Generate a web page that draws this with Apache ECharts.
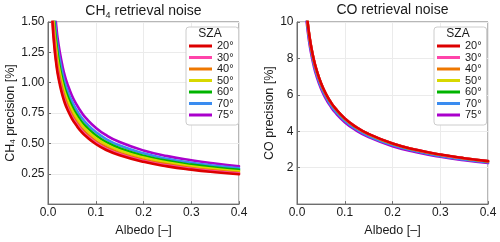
<!DOCTYPE html>
<html>
<head>
<meta charset="utf-8">
<script src="https://cdn.jsdelivr.net/npm/echarts@6/dist/echarts.min.js"></script>
<style>html,body{margin:0;padding:0;background:#fff}#c{width:500px;height:242px}</style>
</head>
<body>
<div id="c"></div>
<script>
const albedo = [0.007,0.01,0.0125,0.015,0.0175,0.02,0.025,0.03,0.035,0.04,0.05,0.06,0.07,0.08,0.1,0.12,0.15,0.2,0.25,0.3,0.35,0.4];
const szaNames = ['20°','30°','40°','50°','60°','70°','75°'];
const szaColors = ['#dd0000','#ff44aa','#ee7700','#d8d800','#00b400','#3a8cf0','#aa00cc'];
const xTicks = [0, 0.1, 0.2, 0.3, 0.4];
const ch4Ticks = [0.25, 0.5, 0.75, 1.0, 1.25, 1.5];
const coTicks = [2, 4, 6, 8, 10];

const ch4_20 = [1.70,1.46,1.33,1.23,1.15,1.08,0.98,0.90,0.835,0.785,0.705,0.645,0.595,0.556,0.495,0.450,0.402,0.348,0.311,0.284,0.263,0.246];
const ch4_30 = [1.73,1.49,1.36,1.25,1.17,1.10,1.00,0.918,0.852,0.80,0.719,0.658,0.607,0.567,0.505,0.459,0.410,0.355,0.317,0.290,0.268,0.251];
const ch4_40 = [1.79,1.53,1.40,1.29,1.21,1.13,1.03,0.945,0.877,0.824,0.740,0.677,0.625,0.584,0.520,0.473,0.422,0.365,0.327,0.298,0.276,0.258];
const ch4_50 = [1.87,1.61,1.46,1.35,1.27,1.19,1.08,0.99,0.919,0.864,0.776,0.710,0.655,0.612,0.545,0.495,0.442,0.383,0.342,0.312,0.289,0.271];
const ch4_60 = [1.95,1.67,1.52,1.41,1.32,1.24,1.12,1.03,0.956,0.899,0.807,0.739,0.681,0.637,0.567,0.515,0.460,0.398,0.356,0.325,0.301,0.282];
const ch4_70 = [2.04,1.75,1.60,1.48,1.38,1.30,1.18,1.08,1.00,0.942,0.846,0.774,0.714,0.667,0.594,0.540,0.482,0.418,0.373,0.341,0.316,0.295];
const ch4_75 = [2.16,1.85,1.69,1.56,1.46,1.37,1.245,1.143,1.06,0.997,0.895,0.819,0.756,0.706,0.629,0.572,0.511,0.442,0.395,0.361,0.334,0.312];

const co_20 = [17.8,14.9,13.33,12.17,11.26,10.54,9.42,8.60,7.96,7.45,6.66,6.08,5.63,5.27,4.71,4.30,3.85,3.33,2.98,2.72,2.52,2.36];
const co_30 = [17.78,14.88,13.32,12.16,11.25,10.53,9.41,8.59,7.95,7.44,6.65,6.07,5.62,5.26,4.705,4.296,3.846,3.327,2.977,2.717,2.517,2.358];
const co_40 = [17.76,14.87,13.30,12.15,11.24,10.52,9.40,8.58,7.94,7.435,6.647,6.068,5.619,5.259,4.70,4.291,3.842,3.323,2.974,2.715,2.515,2.355];
const co_50 = [17.73,14.84,13.28,12.12,11.21,10.50,9.38,8.57,7.93,7.42,6.63,6.06,5.61,5.25,4.69,4.283,3.835,3.317,2.968,2.709,2.51,2.351];
const co_60 = [17.69,14.81,13.25,12.10,11.19,10.48,9.36,8.55,7.91,7.41,6.62,6.04,5.60,5.24,4.68,4.274,3.827,3.31,2.962,2.704,2.505,2.346];
const co_70 = [17.3,14.48,12.96,11.83,10.94,10.24,9.16,8.36,7.74,7.24,6.47,5.91,5.47,5.12,4.58,4.18,3.74,3.24,2.90,2.64,2.45,2.294];
const co_75 = [17.0,14.23,12.73,11.62,10.75,10.07,9.0,8.21,7.60,7.11,6.36,5.81,5.38,5.03,4.50,4.11,3.68,3.18,2.85,2.60,2.41,2.254];

const ch4Series = [ch4_20, ch4_30, ch4_40, ch4_50, ch4_60, ch4_70, ch4_75];
const coSeries = [co_20, co_30, co_40, co_50, co_60, co_70, co_75];

const FONT = 'Liberation Sans, Arial, sans-serif';
const TXT = '#1a1a1a';
const FRAME = '#6e6e6e';

// drawn from 75° to 20°, so 20° ends up on top
function makeSeries(arr, idx) {
  const out = [];
  for (let i = arr.length - 1; i >= 0; i--) {
    const vals = arr[i];
    out.push({
      name: szaNames[i], type: 'line', xAxisIndex: idx, yAxisIndex: idx,
      data: albedo.map((a, j) => [a, vals[j]]),
      smooth: 0.5, showSymbol: false, symbol: 'none',
      lineStyle: { width: 2.6, color: szaColors[i], cap: 'round', join: 'round' }, itemStyle: { color: szaColors[i] },
      clip: true, animation: false
    });
  }
  return out;
}

function xAxis(idx) {
  return {
    type: 'value', gridIndex: idx, min: 0, max: 0.4, interval: 0.1,
    name: 'Albedo [–]', nameLocation: 'middle', nameGap: 16,
    nameTextStyle: { fontFamily: FONT, fontSize: 12.5, color: TXT, verticalAlign: 'top' },
    axisLine: { show: true, lineStyle: { color: FRAME, width: 1 } },
    axisTick: { show: true, inside: true, length: 3, lineStyle: { color: FRAME } },
    axisLabel: { fontFamily: FONT, fontSize: 12, color: TXT, margin: 3, formatter: v => v.toFixed(1) },
    splitLine: { show: true, lineStyle: { color: '#ebebeb', width: 1 } }
  };
}

function yAxis(idx, max, interval, nameRich, fmt, gap) {
  return {
    type: 'value', gridIndex: idx, min: 0, max: max, interval: interval,
    name: nameRich, nameLocation: 'middle', nameGap: gap,
    nameTextStyle: { fontFamily: FONT, fontSize: 12, color: TXT,
      rich: { a: { fontFamily: FONT, fontSize: 12.5, color: TXT, lineHeight: 14 },
              b: { fontFamily: FONT, fontSize: 8, color: TXT, lineHeight: 8, verticalAlign: 'bottom' } } },
    axisLine: { show: true, lineStyle: { color: FRAME, width: 1 } },
    axisTick: { show: true, inside: true, length: 3, lineStyle: { color: FRAME } },
    axisLabel: { fontFamily: FONT, fontSize: 12, color: TXT, margin: 3.5, formatter: v => v === 0 ? '' : fmt(v) },
    splitLine: { show: true, lineStyle: { color: '#ebebeb', width: 1 } }
  };
}

function legend(left) {
  return {
    orient: 'vertical', left: left, top: 27, z: 20,
    data: szaNames.map(n => ({ name: n, icon: 'rect' })),
    itemWidth: 23, itemHeight: 3, itemGap: 0.5, itemTextGap: 2,
    backgroundColor: '#fff', borderColor: '#ccc', borderWidth: 1, borderRadius: 3,
    padding: [13.5, 5, 4.5, 3],
    textStyle: { fontFamily: FONT, fontSize: 11, color: TXT, lineHeight: 11 },
    selectedMode: false
  };
}

const chart = echarts.init(document.getElementById('c'), null, { renderer: 'canvas' });
chart.setOption({
  backgroundColor: '#fff',
  animation: false,
  grid: [
    { left: 48, top: 22, width: 191, height: 187, show: true, borderColor: FRAME, borderWidth: 1, backgroundColor: 'transparent' },
    { left: 297, top: 22, width: 191, height: 187, show: true, borderColor: FRAME, borderWidth: 1, backgroundColor: 'transparent' }
  ],
  xAxis: [xAxis(0), xAxis(1)],
  yAxis: [
    yAxis(0, 1.5, 0.25, '{a|CH}{b|4}{a| precision [%]}', v => v.toFixed(2), 30),
    yAxis(1, 10, 2, '{a|CO precision [%]}', v => String(v), 20)
  ],
  legend: [legend(186), legend(434)],
  graphic: [
    { type: 'text', x: 143.5, y: 3, style: { text: '{a|CH}{b|4}{a| retrieval noise}', textAlign: 'center',
      rich: { a: { fontFamily: FONT, fontSize: 14, fill: TXT, lineHeight: 17 }, b: { fontFamily: FONT, fontSize: 9, fill: TXT, lineHeight: 9, verticalAlign: 'bottom' } } } },
    { type: 'text', x: 392.5, y: 3, style: { text: 'CO retrieval noise', textAlign: 'center', font: '14px ' + FONT, fill: TXT } },
    { type: 'text', x: 210, y: 28, z: 100, style: { text: 'SZA', textAlign: 'center', font: '12px ' + FONT, fill: TXT } },
    { type: 'text', x: 458, y: 28, z: 100, style: { text: 'SZA', textAlign: 'center', font: '12px ' + FONT, fill: TXT } }
  ],
  series: makeSeries(ch4Series, 0).concat(makeSeries(coSeries, 1))
});
</script>
</body>
</html>
